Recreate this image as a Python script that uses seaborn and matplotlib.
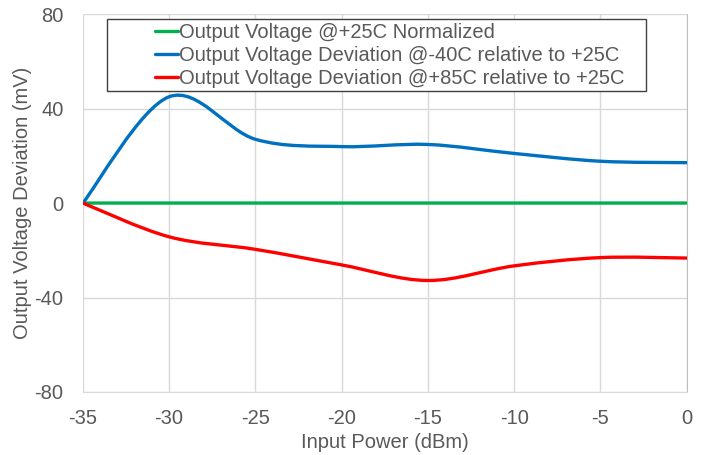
import matplotlib
matplotlib.use("Agg")
import matplotlib.pyplot as plt
from matplotlib.patches import Rectangle, PathPatch
from matplotlib.path import Path
from matplotlib.lines import Line2D
import seaborn as sns

# Valores (dBm -> mV)
input_power = [-35, -30, -25, -20, -15, -10, -5, 0]
v_25c = [0, 0, 0, 0, 0, 0, 0, 0]
dev_m40c = [0, 45.0, 27.0, 23.9, 24.8, 21.0, 17.7, 17.1]
dev_p85c = [0, -14.3, -19.6, -26.2, -32.8, -26.6, -23.1, -23.3]

series_labels = ["Output Voltage @+25C Normalized",
                 "Output Voltage Deviation @-40C relative to +25C",
                 "Output Voltage Deviation @+85C relative to +25C"]
series_colors = ["#00b050", "#0070c0", "#ff0000"]

x_ticks = [-35, -30, -25, -20, -15, -10, -5, 0]
y_ticks = [-80, -40, 0, 40, 80]


def smooth_path(xs, ys):
    # linea suavizada tipo Excel (bezier cubica, tension 1/6)
    pts = list(zip(xs, ys))
    n = len(pts)
    verts = [pts[0]]
    codes = [Path.MOVETO]
    for i in range(n - 1):
        p0 = pts[i - 1] if i > 0 else pts[i]
        p1 = pts[i]
        p2 = pts[i + 1]
        p3 = pts[i + 2] if i + 2 < n else pts[i + 1]
        c1 = (p1[0] + (p2[0] - p0[0]) / 6, p1[1] + (p2[1] - p0[1]) / 6)
        c2 = (p2[0] - (p3[0] - p1[0]) / 6, p2[1] - (p3[1] - p1[1]) / 6)
        verts += [c1, c2, p2]
        codes += [Path.CURVE4] * 3
    return Path(verts, codes)


sns.set_style("white")
plt.rcParams['font.family'] = ['Liberation Sans', 'DejaVu Sans']
txt_color = "#595959"
fs = 14.5

fig = plt.figure(figsize=(7.08, 4.55), dpi=100)
ax = fig.add_axes([0.117, 0.1385, 0.853, 0.8305])

handles = []
for ys, lab, col in zip([v_25c, dev_m40c, dev_p85c], series_labels, series_colors):
    ax.add_patch(PathPatch(smooth_path(input_power, ys), facecolor='none', edgecolor=col,
                           linewidth=2.4, capstyle='round', joinstyle='round', zorder=3))
    handles.append(Line2D([], [], color=col, linewidth=2.4, label=lab))

ax.set_xlim(-35, 0)
ax.set_ylim(-80, 80)
ax.set_xticks(x_ticks)
ax.set_yticks(y_ticks)
ax.set_xticklabels([str(v) for v in x_ticks])
ax.set_yticklabels([str(v) for v in y_ticks])
ax.tick_params(axis='both', length=0, labelsize=fs, colors=txt_color)
ax.tick_params(axis='y', pad=14)
ax.tick_params(axis='x', pad=12)
ax.grid(True, color="#d9d9d9", linewidth=1)
ax.set_axisbelow(True)
for s in ax.spines.values():
    s.set_visible(False)
ax.spines['right'].set_visible(True)
ax.spines['right'].set_color("#bfbfbf")
ax.spines['bottom'].set_visible(True)
ax.spines['bottom'].set_color("#d9d9d9")

ax.set_xlabel("Input Power (dBm)", fontsize=fs, color=txt_color, labelpad=4)
ax.set_ylabel("Output Voltage Deviation (mV)", fontsize=fs, color=txt_color, labelpad=2)

# Caja de leyenda estilo Excel
ax.add_patch(Rectangle((0.040, 0.796), 0.892, 0.191, transform=ax.transAxes,
                       facecolor="white", edgecolor="#404040", linewidth=1,
                       clip_on=False, zorder=4))
leg = ax.legend(handles=handles, loc='upper left', bbox_to_anchor=(0.119, 0.977),
                frameon=False, fontsize=fs, handlelength=1.15, handletextpad=0.05,
                borderpad=0, borderaxespad=0, labelspacing=0.21)
leg.set_zorder(5)
for t in leg.get_texts():
    t.set_color(txt_color)

fig.savefig("out.png", dpi=100)
plt.close()
